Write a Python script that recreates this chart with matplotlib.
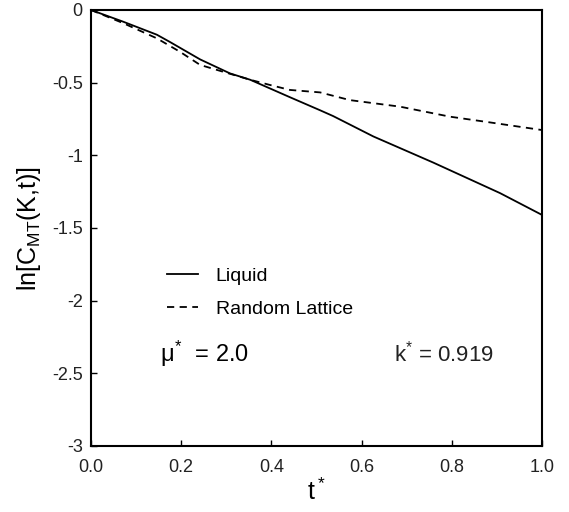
import matplotlib
matplotlib.use('Agg')
import matplotlib.pyplot as plt

plt.rcParams['font.family'] = ['Liberation Sans', 'DejaVu Sans']
plt.rcParams['mathtext.fontset'] = 'custom'
plt.rcParams['mathtext.rm'] = 'Liberation Sans'
plt.rcParams['mathtext.it'] = 'Liberation Sans'
plt.rcParams['mathtext.sf'] = 'Liberation Sans'

# values
liquidT = [0.0, 0.071, 0.146, 0.175, 0.242, 0.308, 0.353, 0.441, 0.508, 0.537,
           0.626, 0.759, 0.907, 1.0]
liquidY = [0.0, -0.08, -0.17, -0.22, -0.34, -0.436, -0.48, -0.60, -0.69, -0.73,
           -0.87, -1.05, -1.26, -1.41]
latticeT = [0.0, 0.071, 0.146, 0.197, 0.242, 0.293, 0.353, 0.397, 0.441, 0.508,
            0.574, 0.685, 0.796, 0.877, 1.0]
latticeY = [0.0, -0.09, -0.195, -0.287, -0.378, -0.425, -0.48, -0.516, -0.55,
            -0.567, -0.62, -0.665, -0.734, -0.77, -0.826]
xTicks = [0.0, 0.2, 0.4, 0.6, 0.8, 1.0]
xTickLabels = ['0.0', '0.2', '0.4', '0.6', '0.8', '1.0']
yTicks = [0, -0.5, -1, -1.5, -2, -2.5, -3]
yTickLabels = ['0', '-0.5', '-1', '-1.5', '-2', '-2.5', '-3']

fig = plt.figure(figsize=(5.69, 5.12), dpi=100)
ax = fig.add_axes([91 / 569, 1 - 446 / 512, 451 / 569, 436 / 512])

ax.plot(liquidT, liquidY, 'k-', lw=1.3, label='Liquid')
ax.plot(latticeT, latticeY, 'k--', lw=1.3, dashes=(4, 3), label='Random Lattice')

ax.set_xlim(0, 1)
ax.set_ylim(-3, 0)
ax.set_xticks(xTicks)
ax.set_xticklabels(xTickLabels)
ax.set_yticks(yTicks)
ax.set_yticklabels(yTickLabels)
ax.tick_params(direction='in', length=4, labelsize=13, width=1,
               labelcolor='#222222')
ax.tick_params(axis='x', pad=9)
ax.tick_params(axis='y', pad=6)
for s in ax.spines.values():
    s.set_linewidth(1.5)

ax.set_xlabel('t$^*$', fontsize=18, labelpad=2)
ax.set_ylabel(r'ln[C$_{\mathrm{MT}}$(K,t)]', fontsize=18, labelpad=6)

ax.legend(loc='upper left', bbox_to_anchor=(0.13, 0.45), frameon=False,
          fontsize=14, handlelength=1.6, handletextpad=0.9, labelspacing=0.8)

ax.text(0.153, 0.212, r'$\mu^{*}$  = 2.0', transform=ax.transAxes, fontsize=17,
        va='center')
ax.text(0.672, 0.212, r'k$^{*}$ = 0.919', transform=ax.transAxes, fontsize=16,
        va='center', color='#222222')

fig.savefig('out.png', dpi=100)
